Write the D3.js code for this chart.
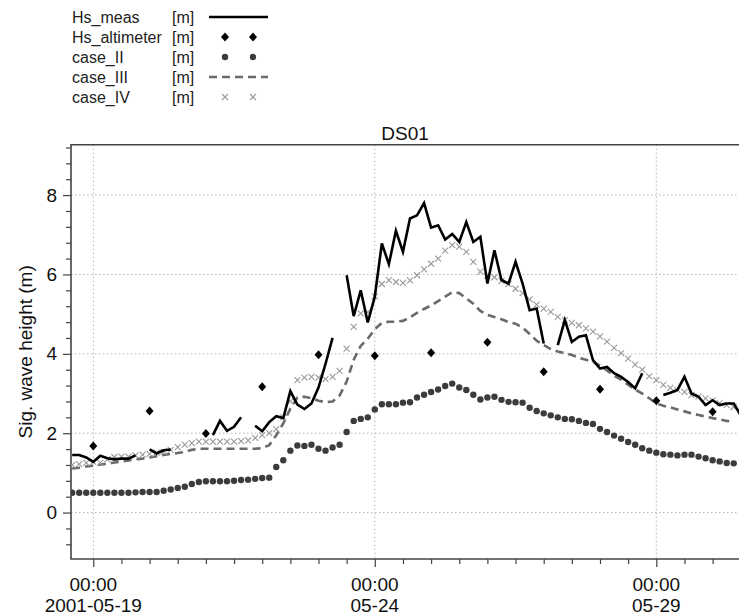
<!DOCTYPE html>
<html>
<head>
<meta charset="utf-8">
<script src="https://cdn.jsdelivr.net/npm/d3@7"></script>
<style>
  html, body { margin: 0; padding: 0; background: #fff; }
  svg { display: block; font-family: "Liberation Sans", Arial, sans-serif; }
</style>
</head>
<body>
<svg id="chart" width="739" height="615"></svg>
<script>
// Series sampled every 3 hours starting 2001-05-18 15:00 (UTC); null = no measurement
const seriesStart = Date.UTC(2001, 4, 18, 15);
const stepHours = 3;

const hsMeas = [1.45,1.45,1.39,1.28,1.43,1.37,1.34,1.36,1.36,1.44,null,1.59,1.49,1.57,1.59,
  null,null,null,null,null,1.95,2.31,2.06,2.16,2.40,null,2.19,2.05,2.28,2.43,2.38,3.06,2.72,
  2.61,2.75,3.15,3.75,4.40,null,5.98,4.95,5.60,4.79,5.44,6.78,6.26,7.10,6.57,7.41,7.49,7.80,
  7.18,7.24,6.88,7.02,6.82,7.32,6.82,6.95,5.77,6.61,5.86,5.77,6.32,5.77,5.10,5.14,4.26,null,
  4.22,4.85,4.30,4.43,4.47,3.84,3.63,3.67,3.51,3.42,3.29,3.13,3.51,null,null,2.96,3.02,3.09,
  3.42,3.00,2.92,2.71,2.83,2.71,2.75,2.75,2.45];

const caseII = [0.50,0.50,0.50,0.50,0.50,0.50,0.50,0.50,0.50,0.51,0.52,0.52,0.52,0.55,0.58,
  0.62,0.65,0.72,0.77,0.79,0.79,0.79,0.79,0.80,0.82,0.83,0.85,0.87,0.88,1.15,1.32,1.56,1.69,
  1.68,1.71,1.61,1.56,1.64,1.71,2.03,2.31,2.36,2.40,2.60,2.73,2.73,2.73,2.77,2.78,2.90,2.97,
  3.04,3.10,3.19,3.25,3.15,3.09,2.97,2.85,2.90,2.92,2.84,2.79,2.78,2.77,2.64,2.56,2.50,2.45,
  2.40,2.36,2.35,2.31,2.26,2.23,2.11,2.03,1.94,1.86,1.78,1.71,1.62,1.56,1.51,1.47,1.46,1.44,
  1.46,1.46,1.41,1.37,1.32,1.29,1.25,1.24];

const caseIII = [1.11,1.13,1.16,1.18,1.21,1.23,1.26,1.29,1.31,1.34,1.36,1.39,1.42,1.45,1.48,
  1.50,1.53,1.58,1.61,1.61,1.61,1.61,1.61,1.61,1.61,1.61,1.61,1.62,1.70,1.95,2.25,2.62,2.90,
  2.92,2.88,2.82,2.78,2.80,2.95,3.30,3.85,4.20,4.38,4.62,4.78,4.81,4.81,4.83,4.92,5.03,5.13,
  5.22,5.33,5.44,5.55,5.53,5.40,5.26,5.08,4.98,4.93,4.87,4.80,4.76,4.66,4.50,4.33,4.22,4.12,
  4.06,4.02,3.97,3.90,3.85,3.80,3.70,3.58,3.45,3.35,3.22,3.10,3.00,2.88,2.75,2.69,2.65,2.60,
  2.55,2.50,2.46,2.42,2.38,2.35,2.31,2.28];

const caseIV = [1.20,1.22,1.25,1.28,1.25,1.34,1.40,1.41,1.41,1.44,1.46,1.48,1.51,1.53,1.58,
  1.65,1.71,1.75,1.79,1.79,1.79,1.79,1.79,1.79,1.80,1.82,1.88,1.95,2.00,2.10,2.40,2.80,3.34,
  3.40,3.42,3.40,3.36,3.42,3.57,4.13,4.68,5.02,5.05,5.45,5.76,5.86,5.81,5.79,5.85,5.98,6.13,
  6.27,6.40,6.60,6.74,6.70,6.57,6.32,6.07,5.97,5.93,5.84,5.76,5.64,5.53,5.37,5.24,5.14,5.06,
  4.93,4.85,4.78,4.72,4.64,4.56,4.44,4.31,4.15,4.02,3.88,3.73,3.60,3.43,3.34,3.22,3.14,3.09,
  3.04,2.96,2.92,2.88,2.83,2.76,2.71,2.66];

// Altimeter passes (daily at 00:00)
const altTimes = ["2001-05-19","2001-05-20","2001-05-21","2001-05-22","2001-05-23","2001-05-24",
  "2001-05-25","2001-05-26","2001-05-27","2001-05-28","2001-05-29","2001-05-30"];
const altValues = [1.68,2.56,1.99,3.17,3.98,3.95,4.03,4.29,3.55,3.11,2.82,2.54];

const yTicks = [0, 2, 4, 6, 8];
const xTickLabels = [["00:00","2001-05-19"],["00:00","05-24"],["00:00","05-29"]];
const legendNames = ["Hs_meas","Hs_altimeter","case_II","case_III","case_IV"];
const legendUnit = "[m]";
const title = "DS01";
const yLabel = "Sig. wave height (m)";

const timeAt = i => new Date(seriesStart + i * stepHours * 3600e3);
const toPts = arr => arr.map((v, i) => ({ t: timeAt(i), v }));

// ---- layout
const svg = d3.select("#chart");
const L = 71, R = 741, T = 144.7, B = 559;

const x = d3.scaleUtc()
  .domain([new Date(Date.UTC(2001, 4, 18, 14, 30)), new Date(Date.UTC(2001, 4, 30, 12, 6))])
  .range([L, R]);
const y = d3.scaleLinear().domain([-1.17, 9.27]).range([B, T]);

svg.append("defs").append("clipPath").attr("id", "plotClip")
  .append("rect").attr("x", L).attr("y", T).attr("width", R - L).attr("height", B - T);

// ---- grid
const majorX = [Date.UTC(2001,4,19), Date.UTC(2001,4,24), Date.UTC(2001,4,29)].map(d => new Date(d));
const grid = svg.append("g").attr("stroke", "#b4b4b4").attr("stroke-width", 1)
  .attr("stroke-dasharray", "1.5,2.5");
grid.selectAll("line.h").data(yTicks).join("line")
  .attr("x1", L).attr("x2", R).attr("y1", d => y(d)).attr("y2", d => y(d));
grid.selectAll("line.v").data(majorX).join("line")
  .attr("y1", T).attr("y2", B).attr("x1", d => x(d)).attr("x2", d => x(d));

// ---- axes
const yMinor = d3.range(-0.8, 9.2001, 0.4).map(v => +v.toFixed(2)).filter(v => !yTicks.includes(v));
const yAxis = svg.append("g").attr("transform", `translate(${L},0)`)
  .call(d3.axisLeft(y).tickValues(yTicks).tickSize(8).tickPadding(6).tickFormat(d3.format("d")));
svg.append("g").attr("transform", `translate(${L},0)`)
  .call(d3.axisLeft(y).tickValues(yMinor).tickSize(5).tickFormat(""))
  .call(g => g.select(".domain").remove());

const xMinor = d3.utcHour.every(12).range(x.domain()[0], x.domain()[1])
  .filter(d => !majorX.some(m => +m === +d));
svg.append("g").attr("transform", `translate(0,${B})`)
  .call(d3.axisBottom(x).tickValues(majorX).tickSize(8).tickFormat(""));
svg.append("g").attr("transform", `translate(0,${B})`)
  .call(d3.axisBottom(x).tickValues(xMinor).tickSize(5).tickFormat(""))
  .call(g => g.select(".domain").remove());

svg.selectAll(".domain").remove();
svg.selectAll(".tick line").attr("stroke", "#444").attr("stroke-width", 1.2);
yAxis.selectAll(".tick text").attr("font-size", 19).attr("fill", "#111")
  .attr("font-family", "Liberation Sans, Arial, sans-serif");

// x tick labels (two lines)
const xl = svg.append("g").attr("font-size", 19).attr("fill", "#111").attr("text-anchor", "middle");
majorX.forEach((d, k) => {
  xl.append("text").attr("x", x(d)).attr("y", 591).text(xTickLabels[k][0]);
  xl.append("text").attr("x", x(d)).attr("y", 612).text(xTickLabels[k][1]);
});

// frame (left, top, bottom)
svg.append("path").attr("fill", "none").attr("stroke", "#444").attr("stroke-width", 1.6)
  .attr("d", `M${R},${T}H${L}V${B}H${R}`);

// ---- series
const plot = svg.append("g").attr("clip-path", "url(#plotClip)");

// case_III dashed
plot.append("path").datum(toPts(caseIII))
  .attr("fill", "none").attr("stroke", "#6a6a6a").attr("stroke-width", 2.6)
  .attr("stroke-dasharray", "8,5")
  .attr("d", d3.line().x(d => x(d.t)).y(d => y(d.v)));

// case_IV crosses
const cross = "M-3,-3L3,3M-3,3L3,-3";
plot.append("g").selectAll("path").data(toPts(caseIV)).join("path")
  .attr("transform", d => `translate(${x(d.t)},${y(d.v)})`)
  .attr("d", cross).attr("stroke", "#9a9a9a").attr("stroke-width", 1.1).attr("fill", "none");

// case_II dots
plot.append("g").selectAll("circle").data(toPts(caseII)).join("circle")
  .attr("cx", d => x(d.t)).attr("cy", d => y(d.v)).attr("r", 3.2).attr("fill", "#3c3c3c");

// measured Hs (with gaps)
plot.append("path").datum(toPts(hsMeas))
  .attr("fill", "none").attr("stroke", "#000").attr("stroke-width", 2.6)
  .attr("stroke-linejoin", "miter")
  .attr("d", d3.line().defined(d => d.v !== null).x(d => x(d.t)).y(d => y(d.v)));

// altimeter diamonds
const diamond = "M0,-4.5L4,0L0,4.5L-4,0Z";
plot.append("g").selectAll("path").data(altTimes.map((t, i) => ({ t: new Date(t + "T00:00Z"), v: altValues[i] })))
  .join("path").attr("transform", d => `translate(${x(d.t)},${y(d.v)})`)
  .attr("d", diamond).attr("fill", "#000");

// ---- title and axis label
svg.append("text").attr("x", (L + 739) / 2).attr("y", 140).attr("text-anchor", "middle")
  .attr("font-size", 19).attr("fill", "#111").text(title);
svg.append("text").attr("transform", `translate(32,${(T + B) / 2}) rotate(-90)`)
  .attr("text-anchor", "middle").attr("font-size", 19).attr("fill", "#111").text(yLabel);

// ---- legend
const lg = svg.append("g").attr("font-size", 16).attr("fill", "#222");
legendNames.forEach((name, k) => {
  const cy = 17 + k * 20;
  lg.append("text").attr("x", 72).attr("y", cy + 5.5).text(name);
  lg.append("text").attr("x", 172).attr("y", cy + 5.5).text(legendUnit);
  const sx = [225, 253];
  if (k === 0) {
    lg.append("line").attr("x1", 209).attr("x2", 268).attr("y1", cy).attr("y2", cy)
      .attr("stroke", "#000").attr("stroke-width", 2.6);
  } else if (k === 1) {
    sx.forEach(px => lg.append("path").attr("transform", `translate(${px},${cy})`).attr("d", diamond).attr("fill", "#000"));
  } else if (k === 2) {
    sx.forEach(px => lg.append("circle").attr("cx", px).attr("cy", cy).attr("r", 3.2).attr("fill", "#3c3c3c"));
  } else if (k === 3) {
    lg.append("line").attr("x1", 209).attr("x2", 268).attr("y1", cy).attr("y2", cy)
      .attr("stroke", "#6a6a6a").attr("stroke-width", 2.6).attr("stroke-dasharray", "8,5");
  } else {
    sx.forEach(px => lg.append("path").attr("transform", `translate(${px},${cy})`).attr("d", cross)
      .attr("stroke", "#9a9a9a").attr("stroke-width", 1.1).attr("fill", "none"));
  }
});
</script>
</body>
</html>
